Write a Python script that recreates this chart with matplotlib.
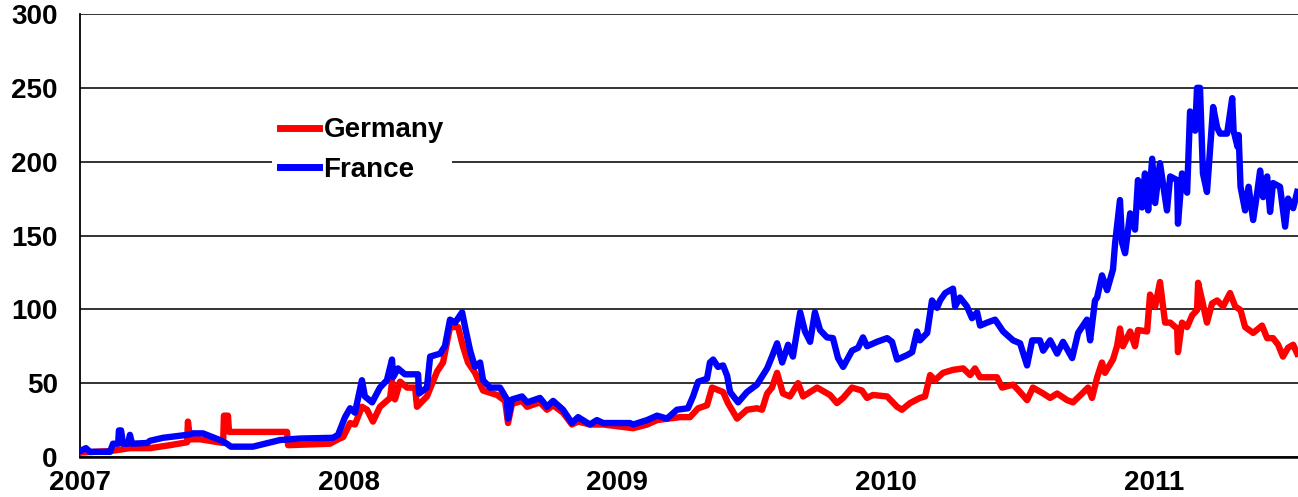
import matplotlib
matplotlib.use("Agg")
import matplotlib.pyplot as plt

plt.rcParams['font.family'] = ['Liberation Sans', 'DejaVu Sans']
plt.rcParams['font.weight'] = 'bold'

france_t = [2007.000, 2007.022, 2007.037, 2007.112, 2007.123, 2007.142, 2007.145, 2007.153, 2007.160,
            2007.179, 2007.186, 2007.194, 2007.250, 2007.261, 2007.309, 2007.399, 2007.421, 2007.458,
            2007.521, 2007.547, 2007.562, 2007.644, 2007.745, 2007.819, 2007.942, 2007.961, 2007.987,
            2008.006, 2008.024, 2008.050, 2008.061, 2008.088, 2008.117, 2008.143, 2008.162, 2008.166,
            2008.184, 2008.210, 2008.259, 2008.263, 2008.292, 2008.304, 2008.341, 2008.359, 2008.378,
            2008.397, 2008.423, 2008.434, 2008.453, 2008.471, 2008.490, 2008.501, 2008.527, 2008.564,
            2008.590, 2008.594, 2008.609, 2008.646, 2008.665, 2008.713, 2008.739, 2008.762, 2008.799,
            2008.832, 2008.855, 2008.899, 2008.925, 2008.948, 2009.048, 2009.060, 2009.112, 2009.149,
            2009.186, 2009.223, 2009.264, 2009.283, 2009.302, 2009.335, 2009.346, 2009.358, 2009.376,
            2009.395, 2009.410, 2009.421, 2009.451, 2009.484, 2009.521, 2009.559, 2009.577, 2009.596,
            2009.615, 2009.637, 2009.655, 2009.682, 2009.700, 2009.719, 2009.737, 2009.756, 2009.782,
            2009.804, 2009.823, 2009.842, 2009.875, 2009.898, 2009.916, 2009.931, 2009.968, 2010.006,
            2010.024, 2010.043, 2010.080, 2010.099, 2010.117, 2010.128, 2010.155, 2010.173, 2010.192,
            2010.203, 2010.222, 2010.251, 2010.259, 2010.277, 2010.303, 2010.322, 2010.341, 2010.352,
            2010.378, 2010.408, 2010.438, 2010.475, 2010.501, 2010.527, 2010.546, 2010.575, 2010.587,
            2010.613, 2010.639, 2010.661, 2010.695, 2010.717, 2010.750, 2010.762, 2010.780, 2010.788,
            2010.806, 2010.825, 2010.847, 2010.855, 2010.873, 2010.881, 2010.892, 2010.911, 2010.929,
            2010.940, 2010.955, 2010.966, 2010.978, 2010.993, 2011.004, 2011.022, 2011.048, 2011.060,
            2011.086, 2011.089, 2011.104, 2011.123, 2011.134, 2011.153, 2011.160, 2011.171, 2011.182,
            2011.197, 2011.209, 2011.220, 2011.235, 2011.246, 2011.272, 2011.291, 2011.296, 2011.311,
            2011.315, 2011.322, 2011.339, 2011.352, 2011.369, 2011.384, 2011.395, 2011.406, 2011.421,
            2011.432, 2011.443, 2011.469, 2011.488, 2011.499, 2011.518, 2011.533]
france = [4, 6, 3.5, 3.5, 9, 9, 18, 18, 9,
          9, 15, 9, 9.5, 11, 13, 15, 16, 16,
          11.5, 9, 7, 7, 11.5, 12.5, 13, 15, 27,
          33, 30, 52, 41, 37, 47, 52, 66, 54,
          60, 56, 56, 43, 47, 68, 70, 75, 93,
          91, 98, 88, 72, 61, 64, 52, 47, 47,
          39, 26, 39, 41, 37, 40, 34, 38, 32,
          23, 27, 22, 25, 23, 23, 22, 25, 28,
          26, 32, 33, 41, 51, 53, 64, 66, 61,
          62, 55, 44, 37, 44, 49, 60, 68, 77,
          64, 76, 68, 98, 85, 78, 98, 86, 81,
          80.5, 67, 61, 72, 74, 81, 75, 78, 80.5,
          78, 66, 69, 71, 85, 79, 84, 106, 101,
          106, 111, 114, 102, 108, 102, 94, 98, 89,
          91, 93, 85, 79, 77, 62, 79, 79, 72,
          79, 70, 78, 67, 84, 93, 79, 106, 108,
          123, 113, 127, 145, 174, 145, 138, 165, 154,
          187.5, 169, 192, 167, 202, 172, 199, 167, 190,
          187.5, 158, 192, 179, 234, 221, 250, 250, 192,
          179.5, 210, 237, 223, 219, 219, 243, 221, 210,
          218, 183, 167, 183, 160.5, 179, 194, 176, 190,
          166, 185.5, 183, 156, 175, 168.5, 179.5]

germany_t = [2007.000, 2007.112, 2007.186, 2007.261, 2007.335, 2007.399, 2007.402, 2007.410, 2007.447,
             2007.533, 2007.536, 2007.551, 2007.555, 2007.771, 2007.775, 2007.931, 2007.961, 2007.980,
             2008.006, 2008.024, 2008.050, 2008.069, 2008.091, 2008.117, 2008.155, 2008.162, 2008.173,
             2008.192, 2008.218, 2008.248, 2008.255, 2008.292, 2008.330, 2008.352, 2008.378, 2008.408,
             2008.426, 2008.445, 2008.471, 2008.501, 2008.553, 2008.583, 2008.594, 2008.609, 2008.646,
             2008.665, 2008.713, 2008.739, 2008.762, 2008.799, 2008.832, 2008.855, 2008.899, 2008.948,
             2009.060, 2009.112, 2009.149, 2009.235, 2009.272, 2009.302, 2009.335, 2009.354, 2009.395,
             2009.413, 2009.447, 2009.484, 2009.521, 2009.540, 2009.559, 2009.577, 2009.596, 2009.618,
             2009.644, 2009.674, 2009.693, 2009.745, 2009.793, 2009.819, 2009.842, 2009.875, 2009.912,
             2009.931, 2009.953, 2010.006, 2010.043, 2010.061, 2010.091, 2010.128, 2010.147, 2010.166,
             2010.184, 2010.214, 2010.251, 2010.289, 2010.315, 2010.333, 2010.352, 2010.415, 2010.434,
             2010.475, 2010.501, 2010.527, 2010.549, 2010.587, 2010.613, 2010.639, 2010.676, 2010.698,
             2010.732, 2010.754, 2010.769, 2010.788, 2010.806, 2010.817, 2010.847, 2010.862, 2010.873,
             2010.884, 2010.911, 2010.929, 2010.940, 2010.974, 2010.985, 2011.004, 2011.022, 2011.041,
             2011.060, 2011.086, 2011.089, 2011.104, 2011.123, 2011.142, 2011.160, 2011.164, 2011.179,
             2011.197, 2011.216, 2011.235, 2011.257, 2011.283, 2011.302, 2011.322, 2011.339, 2011.369,
             2011.402, 2011.421, 2011.443, 2011.462, 2011.480, 2011.499, 2011.518, 2011.533]
germany = [3, 4, 6, 6, 8, 10, 24, 12, 12,
           9.5, 28, 28, 17, 17, 8, 9, 12, 13.5,
           23, 22, 34, 32, 24, 34, 40, 51, 39,
           51, 47, 47, 34, 41, 58, 64, 88, 88,
           75, 64, 57, 45, 42, 38, 23, 36, 38,
           34, 37, 32, 35, 30, 22, 24, 22, 22,
           19.5, 22, 25, 27, 27, 33, 35, 47, 44,
           36.5, 26, 32, 33, 32, 43, 47, 57, 43,
           41, 50, 41, 47, 42, 36.5, 40, 47, 45,
           40, 42, 41, 34, 32, 36.5, 40, 41, 55.5,
           52, 57, 59, 60, 55.5, 60, 54, 54, 47,
           49, 44, 38.5, 47, 43, 40, 43, 38.5, 37,
           43, 47, 40, 54, 64, 57, 66, 75, 87,
           75, 85, 75, 86, 85, 110, 102, 118.5, 91,
           91, 87, 71, 91, 88, 96, 99.5, 118, 106,
           91, 104, 106, 102, 111, 102, 99.5, 88, 84,
           89, 80.5, 80.5, 76, 68, 74, 76, 70]

year_ticks = [2007, 2008, 2009, 2010, 2011]
year_labels = ['2007', '2008', '2009', '2010', '2011']
y_ticks = [0, 50, 100, 150, 200, 250, 300]

fig = plt.figure(figsize=(12.98, 4.97), dpi=100)
ax = fig.add_axes([80 / 1298, 40 / 497, 1 - 80 / 1298, 443 / 497])

ax.plot(germany_t, germany, color='#ff0000', lw=4.6, label='Germany', solid_joinstyle='round', zorder=3)
ax.plot(france_t, france, color='#0000ff', lw=4.6, label='France', solid_joinstyle='round', zorder=4)

ax.set_xlim(2007, 2011.536)
ax.set_ylim(0, 300)
ax.set_yticks(y_ticks)
ax.set_xticks(year_ticks)
ax.set_xticklabels(year_labels)
ax.yaxis.grid(True, color='#222222', lw=1.3)
ax.set_axisbelow(True)
for s in ['top', 'right']:
    ax.spines[s].set_visible(False)
ax.spines['left'].set_color('black')
ax.spines['left'].set_linewidth(1.3)
ax.spines['bottom'].set_color('black')
ax.spines['bottom'].set_linewidth(1.8)
ax.tick_params(axis='both', length=0, labelsize=20)
ax.tick_params(axis='y', pad=16)
ax.tick_params(axis='x', pad=9.5)
for lab in ax.get_xticklabels() + ax.get_yticklabels():
    lab.set_fontweight('bold')

leg = ax.legend(loc='upper left', bbox_to_anchor=(272 / 1298, 1 - 109 / 497), bbox_transform=fig.transFigure,
                frameon=True, fancybox=False, edgecolor='white', facecolor='white', framealpha=1,
                prop={'size': 20, 'weight': 'bold'}, handlelength=1.4, handletextpad=0.15,
                labelspacing=0.5, borderpad=0.3, borderaxespad=0)
leg.get_frame().set_linewidth(0)
for line in leg.get_lines():
    line.set_linewidth(5)

fig.savefig('out.png', dpi=100)
